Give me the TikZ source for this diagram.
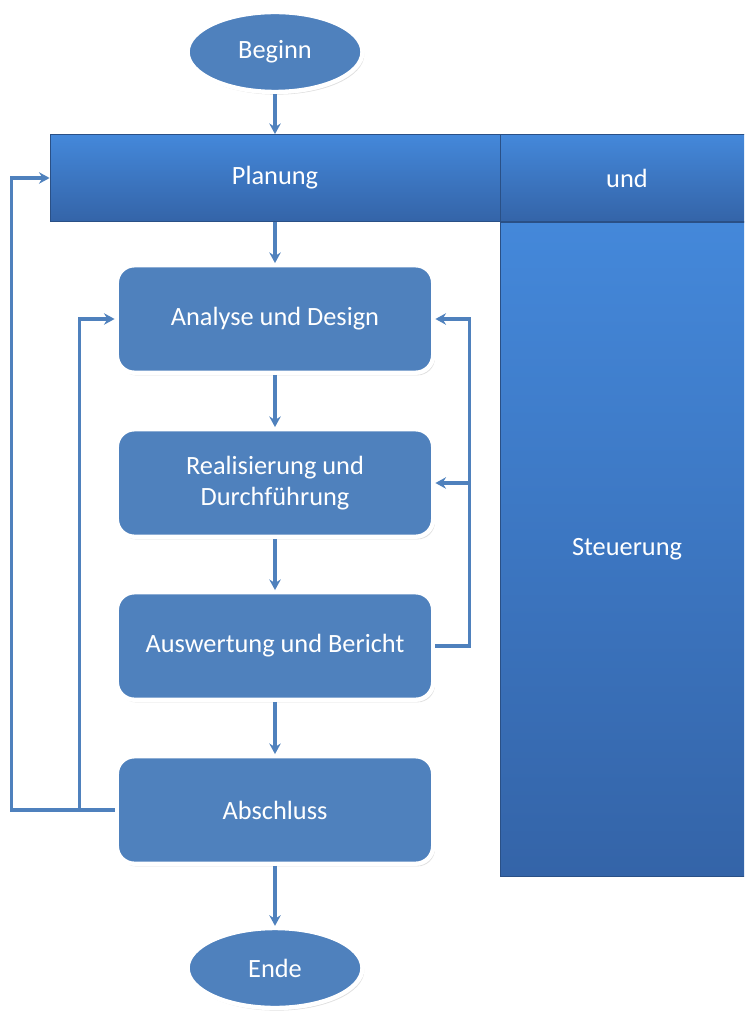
\documentclass[tikz,border=0pt]{standalone}
\usepackage{fontspec}
\setmainfont{Carlito}
\usetikzlibrary{shapes.geometric,arrows.meta,shadows}
\definecolor{boxblue}{RGB}{79,129,189}
\definecolor{bartop}{RGB}{68,136,218}
\definecolor{barbot}{RGB}{52,100,168}
\begin{document}
\begin{tikzpicture}[x=0.02cm,y=-0.02cm,font=\fontsize{15}{18}\selectfont,
  term/.style={ellipse,fill=boxblue,draw=white,line width=2.5pt,text=white,minimum width=3.5cm,minimum height=1.6cm,drop shadow={shadow xshift=1pt,shadow yshift=-1.5pt,opacity=0.25}},
  stepbox/.style={rectangle,rounded corners=10pt,fill=boxblue,draw=white,line width=2.5pt,text=white,align=center,minimum width=6.33cm,minimum height=2.15cm,drop shadow={shadow xshift=1pt,shadow yshift=-1.5pt,opacity=0.25}},
  bar/.style={rectangle,top color=bartop,bottom color=barbot,draw=barbot!80!black,line width=0.5pt,text=white},
  flow/.style={draw=boxblue,line width=2pt,-{Stealth[length=6pt,width=6.5pt]}}]
\clip(0,0)rectangle(744,1016);
\node[term](beginn)at(275,52){Beginn};
\node[bar,minimum width=9cm,minimum height=1.74cm](planung)at(275,178){Planung};
\node[bar,minimum width=5.08cm,minimum height=1.74cm](und)at(627,178){und};
\node[bar,minimum width=5.08cm,minimum height=13.08cm](steuerung)at(627,549){Steuerung};
\node[stepbox](analyse)at(275,319){Analyse und Design};
\node[stepbox](real)at(275,483){Realisierung und\\Durchführung};
\node[stepbox](ausw)at(275,646){Auswertung und Bericht};
\node[stepbox](abschluss)at(275,810){Abschluss};
\node[term](ende)at(275,968){Ende};
\draw[flow](beginn)--(planung);
\draw[flow](planung)--(analyse);
\draw[flow](analyse)--(real);
\draw[flow](real)--(ausw);
\draw[flow](ausw)--(abschluss);
\draw[flow](abschluss)--(ende);
\draw[flow](ausw.east)--++(34,0)coordinate(r)|-(analyse.east);
\draw[flow](r|-real.east)--(real.east);
\draw[flow](abschluss.west)--++(-35,0)coordinate(l)|-(analyse.west);
\draw[flow](l)--++(-68,0)|-(planung.west);
\end{tikzpicture}
\end{document}
